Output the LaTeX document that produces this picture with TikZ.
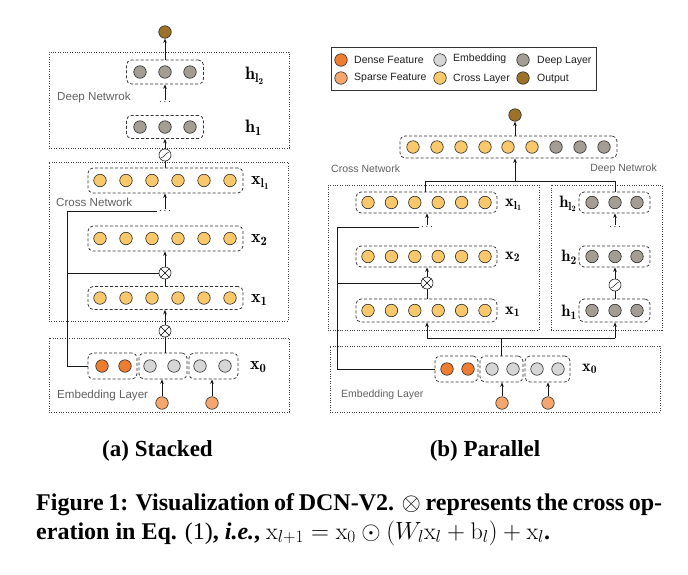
\documentclass[tikz,border=0pt]{standalone}
\usepackage{fontspec}
\usetikzlibrary{arrows.meta,calc}
\newfontfamily\dfont{Liberation Sans}
\newfontfamily\capfont{Liberation Serif}
\definecolor{cDense}{HTML}{EE7D31}
\definecolor{cSparse}{HTML}{F4A66E}
\definecolor{cEmb}{HTML}{D6D6D6}
\definecolor{cCross}{HTML}{F9C86A}
\definecolor{cDeep}{HTML}{A39D93}
\definecolor{cOut}{HTML}{9B7228}
\tikzset{
 nd/.style={circle, draw=black!85, line width=0.6pt, minimum size=12.5pt, inner sep=0pt},
 dense/.style={nd, fill=cDense},
 sparse/.style={nd, fill=cSparse},
 emb/.style={nd, fill=cEmb},
 cross/.style={nd, fill=cCross},
 deep/.style={nd, fill=cDeep},
 outc/.style={nd, fill=cOut},
 grp/.style={draw=black!80, dash pattern=on 3pt off 2pt, line width=0.75pt, rounded corners=5pt, inner sep=0pt},
 area/.style={draw=black!75, dash pattern=on 0.8pt off 1.6pt, line width=0.7pt, inner sep=0pt},
 legbox/.style={draw=black!80, line width=0.8pt, inner sep=0pt},
 conn/.style={line width=0.75pt, draw=black!90},
 arr/.style={conn, -{Stealth[length=4.5pt,width=3.6pt]}},
 dtxtA/.style={font=\dfont\fontsize{11.6}{13}\selectfont, text=black!62, inner sep=0pt},
 dtxt/.style={font=\dfont\fontsize{10.5}{12}\selectfont, text=black!62, inner sep=0pt},
 lgtxt/.style={font=\dfont\fontsize{10.5}{12}\selectfont, text=black!88, inner sep=0pt, anchor=west},
 lblA/.style={font=\fontsize{18}{20}\selectfont, inner sep=0pt},
 lblB/.style={font=\fontsize{16.5}{18}\selectfont, inner sep=0pt},
 dts/.style={font=\fontsize{10}{10}\selectfont, inner sep=1.5pt},
 opx/.style={circle, draw=black!85, fill=white, line width=0.6pt, minimum size=12pt, inner sep=0pt},
 sigm/.style={opx, path picture={\draw[line width=0.6pt] ([xshift=-3.6pt,yshift=-2.6pt]path picture bounding box.center) .. controls +(2.6pt,0pt) and +(-2.6pt,0pt) .. ([xshift=3.6pt,yshift=2.6pt]path picture bounding box.center);}},
 subcap/.style={font=\capfont\bfseries\fontsize{23}{27}\selectfont, inner sep=0pt},
 figcap/.style={font=\capfont\bfseries\fontsize{24}{29}\selectfont, inner sep=0pt, align=left},
}
\begin{document}
\begin{tikzpicture}[x=1pt,y=-1pt]
\useasboundingbox (0,0) rectangle (688,574);

%%%%%%%%%%%%%%%% (a) Stacked %%%%%%%%%%%%%%%%
\node[area, minimum width=240pt, minimum height=96pt] (aDeep) at (169,100) {};
\node[area, minimum width=239pt, minimum height=159pt] (aCross) at (168.5,241.5) {};
\node[area, minimum width=240pt, minimum height=74pt] (aEmb) at (169,375) {};

\node[outc] (aOut) at (165,32) {};

\node[grp, minimum width=77pt, minimum height=24pt] (ahl2) at (165,72) {};
\foreach \x in {140,165,190} \node[deep] at (\x,72) {};
\node[grp, minimum width=77pt, minimum height=23pt] (ah1) at (165,127) {};
\foreach \x in {140,165,190} \node[deep] at (\x,127) {};
\node[dts] (adots1) at (165,102) {$\ldots$};
\node[lblA, anchor=west] (aLhl2) at (245,76) {$\mathbf{h_{l_2}}$};
\node[lblA, anchor=west] (aLh1) at (245,128) {$\mathbf{h_{1}}$};
\node[dtxtA, anchor=west] (aTdeep) at (57,97) {Deep Netwrok};

\node[sigm] (asig) at (165,155) {};

\node[grp, minimum width=155pt, minimum height=25pt] (axl1) at (165.5,180.5) {};
\foreach \x in {100,126,152,178,204,230} \node[cross] at (\x,180.5) {};
\node[grp, minimum width=155pt, minimum height=25pt] (ax2) at (165.5,238.5) {};
\foreach \x in {100,126,152,178,204,230} \node[cross] at (\x,238.5) {};
\node[grp, minimum width=155pt, minimum height=23pt] (ax1) at (165.5,298) {};
\foreach \x in {100,126,152,178,204,230} \node[cross] at (\x,298) {};
\node[dts] (adots2) at (165,211) {$\ldots$};
\node[lblA, anchor=west] (aLxl1) at (251,183) {$\mathbf{x_{l_1}}$};
\node[lblA, anchor=west] (aLx2) at (251,240) {$\mathbf{x_{2}}$};
\node[lblA, anchor=west] (aLx1) at (251,300) {$\mathbf{x_{1}}$};
\node[dtxtA, anchor=west] (aTcross) at (56,202) {Cross Network};

\node[opx] (aot1) at (165,273) {};
\draw[line width=0.6pt] (aot1.north east) -- (aot1.south west) (aot1.north west) -- (aot1.south east);
\node[opx] (aot2) at (165,331) {};
\draw[line width=0.6pt] (aot2.north east) -- (aot2.south west) (aot2.north west) -- (aot2.south east);

\node[grp, minimum width=49pt, minimum height=26pt] (ae1) at (112.5,366) {};
\node[grp, minimum width=48pt, minimum height=26pt] (ae2) at (163,366) {};
\node[grp, minimum width=49pt, minimum height=26pt] (ae3) at (213.5,366) {};
\node[dense] at (102,366) {};
\node[dense] at (125,366) {};
\node[emb] at (150,366) {};
\node[emb] at (174,366) {};
\node[emb] at (200,366) {};
\node[emb] at (225,366) {};
\node[lblA, anchor=west] (aLx0) at (250,367) {$\mathbf{x_{0}}$};
\node[sparse] (as1) at (162,403) {};
\node[sparse] (as2) at (212,403) {};
\node[dtxtA, anchor=west] (aTemb) at (57,395) {Embedding Layer};

\coordinate (aC1) at (67,211);
\coordinate (aC2) at (67,366);

\draw[arr] (ahl2.north -| aOut) -- (aOut.south);
\draw[arr] (adots1.north) -- (ahl2.south -| adots1);
\draw[arr] (asig.north) -- (ah1.south -| asig);
\draw[conn] (axl1.north -| asig) -- (asig.south);
\draw[arr] (adots2.north) -- (axl1.south -| adots2);
\draw[conn] (adots2.west) -| (aC2) -- (ae1.west);
\draw[conn] (aC1 |- aot1) -- (aot1.west);
\draw[arr] (aot1.north) -- (ax2.south -| aot1);
\draw[conn] (ax1.north -| aot1) -- (aot1.south);
\draw[arr] (aot2.north) -- (ax1.south -| aot2);
\draw[conn] (ae2.north -| aot2) -- (aot2.south);
\draw[arr] (as1.north) -- (ae2.south -| as1);
\draw[arr] (as2.north) -- (ae3.south -| as2);

%%%%%%%%%%%%%%%% (b) Parallel %%%%%%%%%%%%%%%%
\node[legbox, minimum width=265pt, minimum height=43pt] (leg) at (463.5,68.5) {};
\node[dense] (lg1) at (341,60) {};
\node[lgtxt] (lt1) at (354,60) {Dense Feature};
\node[sparse] (lg2) at (341,78) {};
\node[lgtxt] (lt2) at (354,78) {Sparse Feature};
\node[emb] (lg3) at (440,60) {};
\node[lgtxt] (lt3) at (453,59) {Embedding};
\node[cross] (lg4) at (440,78) {};
\node[lgtxt] (lt4) at (453,79) {Cross Layer};
\node[deep] (lg5) at (523,60) {};
\node[lgtxt] (lt5) at (537,61) {Deep Layer};
\node[outc] (lg6) at (523,78) {};
\node[lgtxt] (lt6) at (537,79) {Output};

\node[outc] (bOut) at (515,115) {};
\node[grp, minimum width=217pt, minimum height=22pt] (btop) at (508.5,147) {};
\foreach \x in {413,437,461,485,508,532} \node[cross] at (\x,147) {};
\foreach \x in {556,580,604} \node[deep] at (\x,147) {};

\node[dtxt, anchor=west] (bTcross) at (331,169) {Cross Network};
\node[dtxt, anchor=east] (bTdeep) at (657,169) {Deep Netwrok};

\node[area, minimum width=211pt, minimum height=145pt] (bCrossA) at (433.5,257.5) {};
\node[area, minimum width=111pt, minimum height=145pt] (bDeepA) at (606.5,257.5) {};
\node[area, minimum width=330pt, minimum height=66pt] (bEmbA) at (495,379) {};

\node[grp, minimum width=141pt, minimum height=21pt] (bxl1) at (426.5,202.5) {};
\node[grp, minimum width=141pt, minimum height=21pt] (bx2) at (426.5,256.5) {};
\node[grp, minimum width=141pt, minimum height=23pt] (bx1) at (426.5,310.5) {};
\foreach \y in {202.5,256.5,310.5}
  \foreach \x in {368,391.4,414.8,438.2,461.6,485} \node[cross] at (\x,\y) {};
\node[lblB, anchor=west] (bLxl1) at (505,205) {$\mathbf{x_{l_1}}$};
\node[lblB, anchor=west] (bLx2) at (505,257) {$\mathbf{x_{2}}$};
\node[lblB, anchor=west] (bLx1) at (505,312) {$\mathbf{x_{1}}$};
\node[dts] (bdots1) at (427,227) {$\ldots$};
\node[opx] (bot) at (427,283) {};
\draw[line width=0.6pt] (bot.north east) -- (bot.south west) (bot.north west) -- (bot.south east);

\node[grp, minimum width=71pt, minimum height=21pt] (bhl2) at (614.5,202.5) {};
\node[grp, minimum width=71pt, minimum height=21pt] (bh2) at (614.5,256.5) {};
\node[grp, minimum width=71pt, minimum height=23pt] (bh1) at (614.5,310.5) {};
\foreach \y in {202.5,256.5,310.5}
  \foreach \x in {592,615,637} \node[deep] at (\x,\y) {};
\node[lblB, anchor=east] (bLhl2) at (577,204) {$\mathbf{h_{l_2}}$};
\node[lblB, anchor=east] (bLh2) at (577,257) {$\mathbf{h_{2}}$};
\node[lblB, anchor=east] (bLh1) at (577,312) {$\mathbf{h_{1}}$};
\node[dts] (bdots2) at (615,227) {$\ldots$};
\node[sigm] (bsig) at (615,285) {};

\node[grp, minimum width=43pt, minimum height=26pt] (be1) at (456.5,369) {};
\node[grp, minimum width=43pt, minimum height=26pt] (be2) at (501.5,369) {};
\node[grp, minimum width=45pt, minimum height=26pt] (be3) at (547.5,369) {};
\node[dense] at (447,369) {};
\node[dense] at (468,369) {};
\node[emb] at (492,369) {};
\node[emb] at (513,369) {};
\node[emb] at (537,369) {};
\node[emb] at (558,369) {};
\node[lblB, anchor=west] (bLx0) at (582,369) {$\mathbf{x_{0}}$};
\node[sparse] (bs1) at (502,403) {};
\node[sparse] (bs2) at (548,403) {};
\node[dtxt, anchor=west] (bTemb) at (341,395) {Embedding Layer};

\coordinate (bJ) at (515,181);
\coordinate (bA) at (425,181);
\coordinate (bB) at (615,181);
\coordinate (bC1) at (337,228);
\coordinate (bC2) at (337,369);
\coordinate (bK) at (427,338);
\coordinate (bL) at (615,338);
\coordinate (bM) at (501,338);

\draw[arr] (btop.north -| bOut) -- (bOut.south);
\draw[arr] (bJ) -- (btop.south -| bJ);
\draw[conn] (bxl1.north -| bA) -- (bA) -- (bB) -- (bhl2.north -| bB);
\draw[arr] (bdots1.north) -- (bxl1.south -| bdots1);
\draw[conn] (bdots1.west) -| (bC2) -- (be1.west);
\draw[conn] (bC1 |- bot) -- (bot.west);
\draw[arr] (bot.north) -- (bx2.south -| bot);
\draw[conn] (bx1.north -| bot) -- (bot.south);
\draw[arr] (bK) -- (bx1.south -| bK);
\draw[arr] (bdots2.north) -- (bhl2.south -| bdots2);
\draw[arr] (bsig.north) -- (bh2.south -| bsig);
\draw[conn] (bh1.north -| bsig) -- (bsig.south);
\draw[arr] (bL) -- (bh1.south -| bL);
\draw[conn] (bK) -- (bL);
\draw[conn] (bM) -- (be2.north -| bM);
\draw[arr] (bs1.north) -- (be2.south -| bs1);
\draw[arr] (bs2.north) -- (be3.south -| bs2);

%%%%%%%%%%%%%%%% captions %%%%%%%%%%%%%%%%
\node[subcap, anchor=base] (capA) at (157.5,456) {(a) Stacked};
\node[subcap, anchor=base] (capB) at (485,456) {(b) Parallel};
\node[figcap, anchor=base west] (capL) at (36,539) {\makebox[626pt][s]{Figure 1: Visualization of DCN-V2. $\otimes$ represents the cross op-}\\eration in Eq. \textmd{(1)}, \textit{i.e.}, $\mathrm{x}_{l+1} = \mathrm{x}_0 \odot (W_l\mathrm{x}_l + \mathrm{b}_l) + \mathrm{x}_l$.};
\end{tikzpicture}
\end{document}
